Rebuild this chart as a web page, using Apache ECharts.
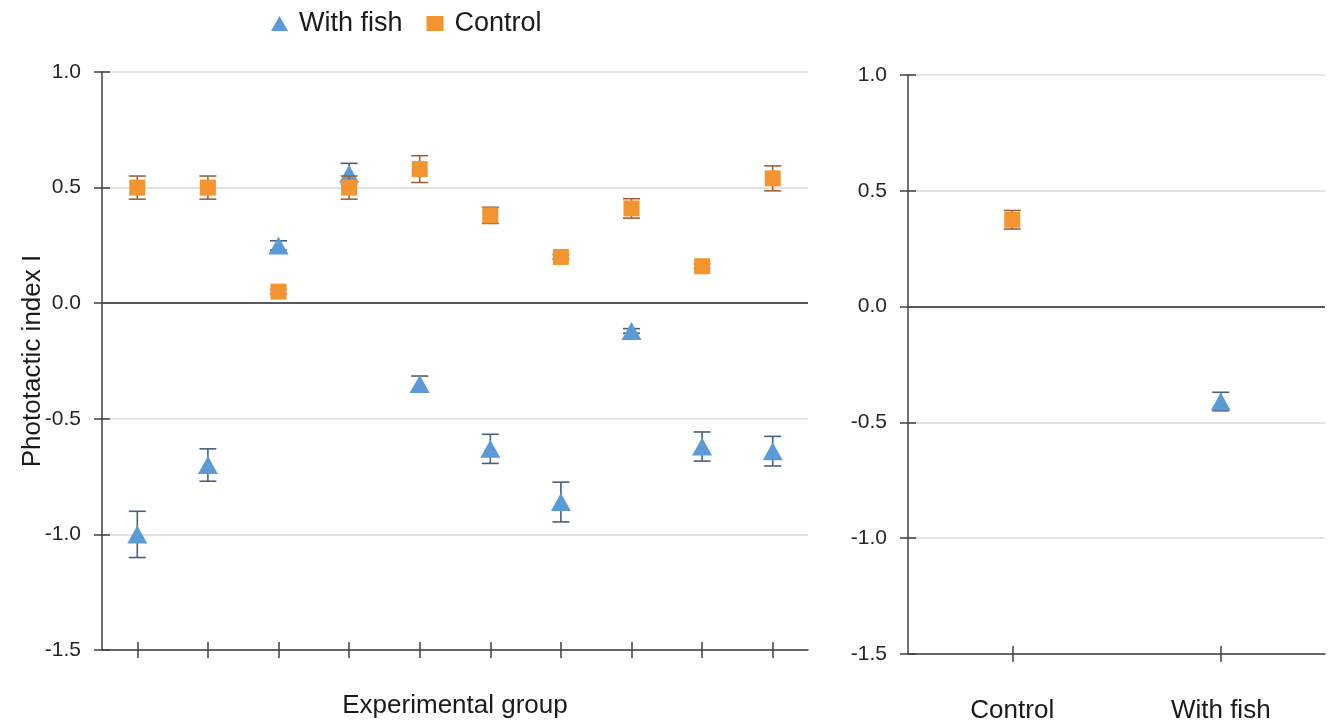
<!DOCTYPE html>
<html>
<head>
<meta charset="utf-8">
<script src="https://cdn.jsdelivr.net/npm/echarts@6/dist/echarts.min.js"></script>
<style>
html,body{margin:0;padding:0;background:#fff;}
#chart{width:1328px;height:722px;}
</style>
</head>
<body>
<div id="chart"></div>
<script>
// ---- data ----
const groups = ['1','2','3','4','5','6','7','8','9','10'];
const fishMean = [-1.00, -0.70, 0.25, 0.56, -0.35, -0.63, -0.86, -0.12, -0.62, -0.64];
const fishErr  = [0.10, 0.07, 0.02, 0.045, 0.035, 0.063, 0.086, 0.01, 0.063, 0.064];
const ctrlMean = [0.50, 0.50, 0.05, 0.50, 0.58, 0.38, 0.20, 0.41, 0.16, 0.54];
const ctrlErr  = [0.05, 0.05, 0.01, 0.05, 0.058, 0.035, 0.01, 0.042, 0.01, 0.054];
const pooledCats = ['Control', 'With fish'];
const pooledCtrlMean = 0.375, pooledCtrlErr = 0.04;
const pooledFishMean = -0.41, pooledFishErr = 0.04;
const yTicks = [-1.5, -1.0, -0.5, 0.0, 0.5, 1.0];

const BLUE = '#5B9BD5', ORANGE = '#F39430';
const BLUE_ERR = '#4A5F7E', ORANGE_ERR = '#9C6236';
const FONT = '"Liberation Sans", Arial, sans-serif';

function errData(means, errs) {
  return means.map((m, i) => [i, m - errs[i], m + errs[i]]);
}
function errSeries(data, color, xi, yi, z) {
  return {
    type: 'custom', xAxisIndex: xi, yAxisIndex: yi, z: z, silent: true,
    renderItem: function (params, api) {
      const x = api.value(0);
      const lo = api.coord([x, api.value(1)]);
      const hi = api.coord([x, api.value(2)]);
      const hw = 8.5;
      const st = { stroke: color, lineWidth: 1.6 };
      return { type: 'group', children: [
        { type: 'line', shape: { x1: lo[0], y1: lo[1], x2: hi[0], y2: hi[1] }, style: st },
        { type: 'line', shape: { x1: lo[0]-hw, y1: lo[1], x2: lo[0]+hw, y2: lo[1] }, style: st },
        { type: 'line', shape: { x1: hi[0]-hw, y1: hi[1], x2: hi[0]+hw, y2: hi[1] }, style: st }
      ]};
    },
    data: data
  };
}
const zeroLine = {
  silent: true, symbol: 'none', label: { show: false },
  lineStyle: { color: '#595959', width: 2, type: 'solid' },
  data: [{ yAxis: 0 }]
};

function mainX(grid, data, showLabels) {
  return {
    type: 'category', gridIndex: grid, data: data, position: 'bottom',
    axisLine: { show: true, onZero: false, lineStyle: { color: '#404040', width: 1.5 } },
    axisTick: { show: true, alignWithLabel: true, length: 8, lineStyle: { color: '#404040', width: 1.5 } },
    axisLabel: { show: showLabels, margin: 44, fontSize: 26, color: '#1a1a1a', fontFamily: FONT },
    splitLine: { show: false }
  };
}
function dupX(grid, data) {
  return {
    type: 'category', gridIndex: grid, data: data, position: 'bottom', offset: 0,
    axisLine: { show: false, onZero: false },
    axisTick: { show: true, inside: true, alignWithLabel: true, length: 8, lineStyle: { color: '#404040', width: 1.5 } },
    axisLabel: { show: false }, splitLine: { show: false }
  };
}
function mainY(grid) {
  return {
    type: 'value', gridIndex: grid, min: -1.5, max: 1.0, interval: 0.5, position: 'left',
    axisLine: { show: true, onZero: false, lineStyle: { color: '#404040', width: 1.5 } },
    axisTick: { show: true, length: 8, lineStyle: { color: '#404040', width: 1.5 } },
    axisLabel: { margin: 21, fontSize: 21, color: '#262626', fontFamily: FONT,
      formatter: v => yTicks.includes(Math.round(v*10)/10) ? v.toFixed(1) : '' },
    splitLine: { show: true, lineStyle: { color: '#D9D9D9', width: 1.5 } }
  };
}
function dupY(grid) {
  return {
    type: 'value', gridIndex: grid, min: -1.5, max: 1.0, interval: 0.5, position: 'left', offset: 0,
    axisLine: { show: false, onZero: false },
    axisTick: { show: true, inside: true, length: 8, lineStyle: { color: '#404040', width: 1.5 } },
    axisLabel: { show: false }, splitLine: { show: false }
  };
}

const option = {
  animation: false,
  backgroundColor: '#ffffff',
  textStyle: { fontFamily: FONT },
  legend: {
    left: 266, top: 5, itemGap: 24, itemWidth: 17, itemHeight: 15,
    textStyle: { fontSize: 27, color: '#1a1a1a', fontFamily: FONT, padding: [0, 0, 0, 6] },
    data: [
      { name: 'With fish', icon: 'triangle' },
      { name: 'Control', icon: 'rect' }
    ]
  },
  grid: [
    { left: 102, top: 72, width: 706, height: 578, containLabel: false, outerBoundsMode: 'none' },
    { left: 908, top: 75, width: 417, height: 579, containLabel: false, outerBoundsMode: 'none' }
  ],
  xAxis: [
    Object.assign(mainX(0, groups, false), {
      name: 'Experimental group', nameLocation: 'middle', nameGap: 43, nameMoveOverlap: false,
      nameTextStyle: { fontSize: 26, color: '#1a1a1a', fontFamily: FONT }
    }),
    dupX(0, groups),
    mainX(1, pooledCats, true),
    dupX(1, pooledCats)
  ],
  yAxis: [
    Object.assign(mainY(0), {
      name: 'Phototactic index I', nameLocation: 'middle', nameGap: 56, nameMoveOverlap: false,
      nameTextStyle: { fontSize: 26, color: '#1a1a1a', fontFamily: FONT }
    }),
    dupY(0),
    mainY(1),
    dupY(1)
  ],
  series: [
    errSeries(errData(fishMean, fishErr), BLUE_ERR, 0, 0, 2),
    {
      name: 'With fish', type: 'scatter', xAxisIndex: 0, yAxisIndex: 0, z: 3,
      symbol: 'triangle', symbolSize: [20, 18],
      itemStyle: { color: BLUE, opacity: 1 },
      data: fishMean.map((v, i) => [i, v]),
      markLine: zeroLine
    },
    errSeries(errData(ctrlMean, ctrlErr), ORANGE_ERR, 0, 0, 4),
    {
      name: 'Control', type: 'scatter', xAxisIndex: 0, yAxisIndex: 0, z: 5,
      symbol: 'rect', symbolSize: 16,
      itemStyle: { color: ORANGE, opacity: 1 },
      data: ctrlMean.map((v, i) => [i, v])
    },
    errSeries([[1, pooledFishMean - pooledFishErr, pooledFishMean + pooledFishErr]], BLUE_ERR, 2, 2, 2),
    {
      name: 'With fish', type: 'scatter', xAxisIndex: 2, yAxisIndex: 2, z: 3,
      symbol: 'triangle', symbolSize: [20, 18],
      itemStyle: { color: BLUE, opacity: 1 },
      data: [[1, pooledFishMean]],
      markLine: zeroLine
    },
    errSeries([[0, pooledCtrlMean - pooledCtrlErr, pooledCtrlMean + pooledCtrlErr]], ORANGE_ERR, 2, 2, 4),
    {
      name: 'Control', type: 'scatter', xAxisIndex: 2, yAxisIndex: 2, z: 5,
      symbol: 'rect', symbolSize: 16,
      itemStyle: { color: ORANGE, opacity: 1 },
      data: [[0, pooledCtrlMean]]
    }
  ]
};

const chart = echarts.init(document.getElementById('chart'), null, { renderer: 'canvas' });
chart.setOption(option);
</script>
</body>
</html>
